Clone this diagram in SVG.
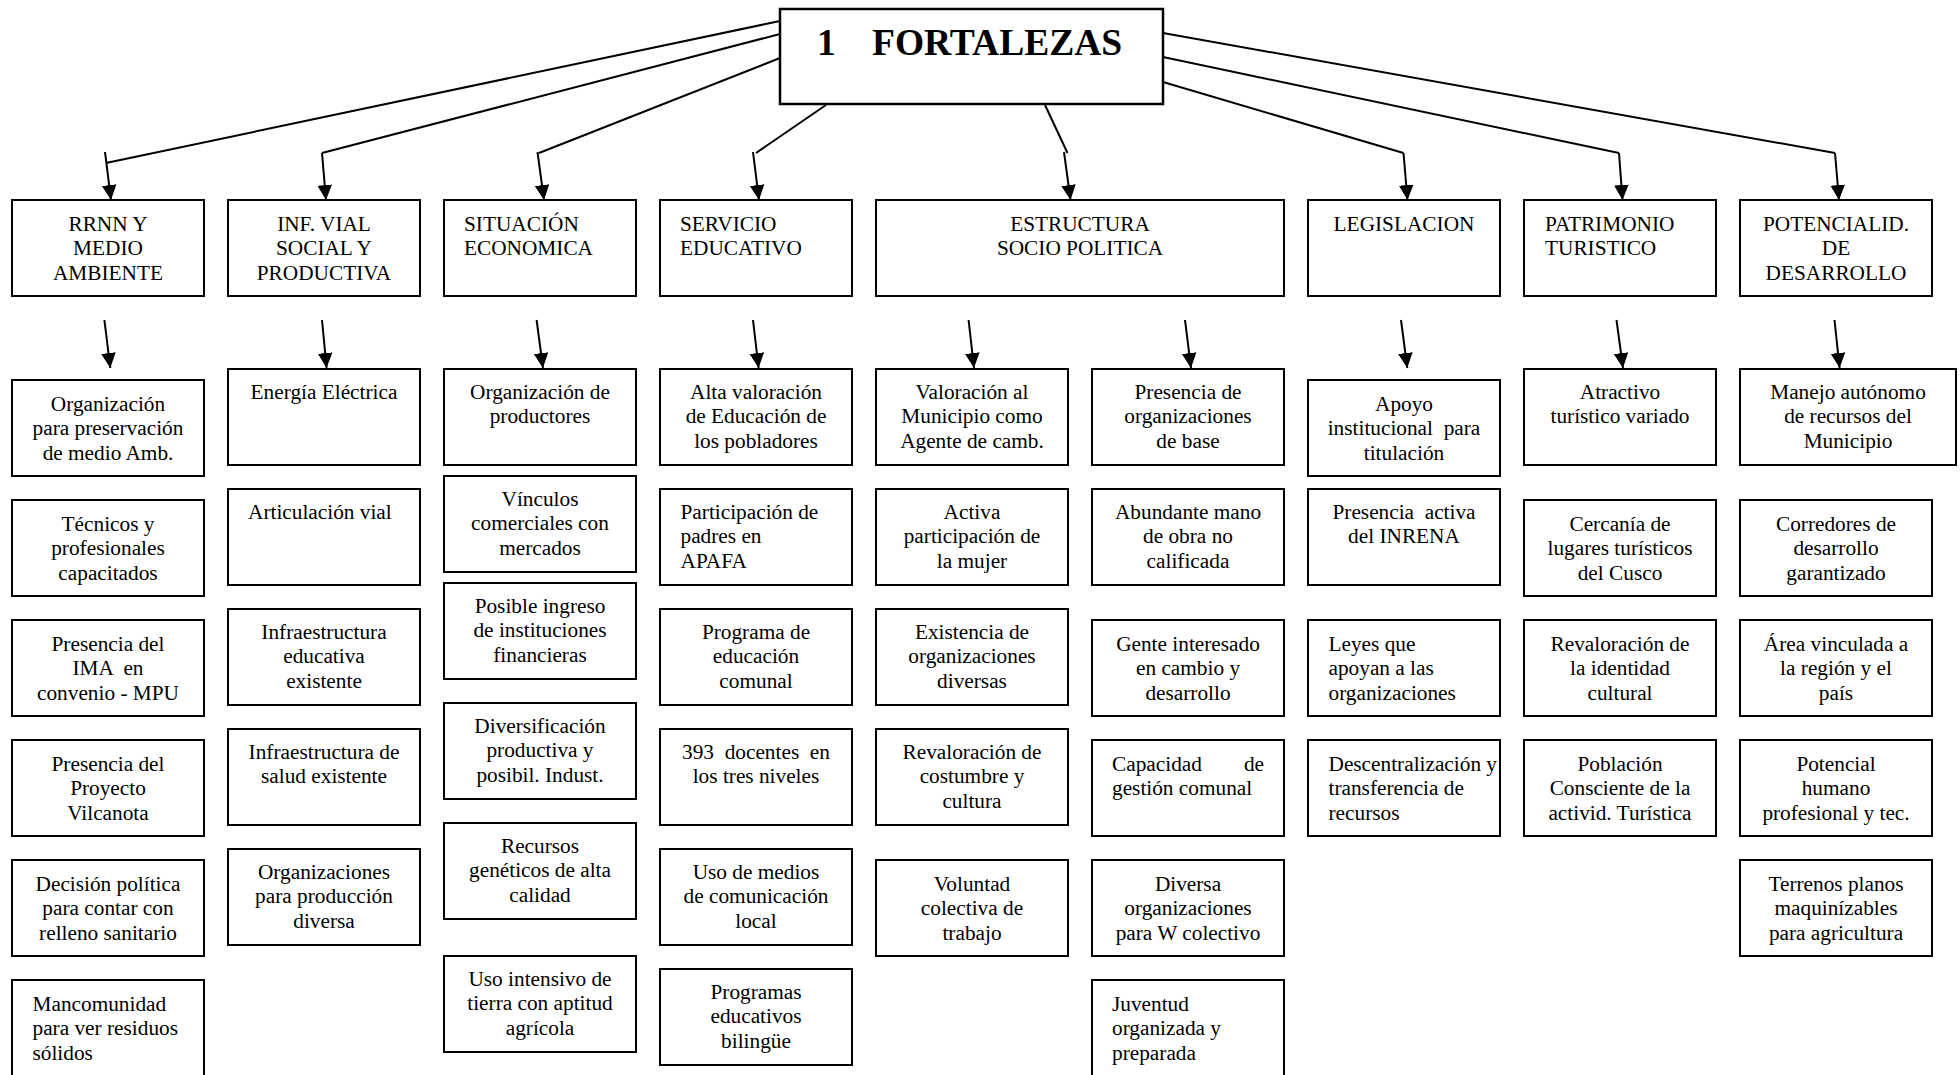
<svg xmlns="http://www.w3.org/2000/svg" width="1960" height="1075" viewBox="0 0 1960 1075">
<style>
rect{fill:#fff;stroke:#000;stroke-width:2}
text{font-family:"Liberation Serif","Times New Roman",serif;font-size:21.3px;fill:#000}
.c{text-anchor:middle}
.l{text-anchor:start}
.e{text-anchor:end}
.t{font-size:37.5px;font-weight:bold}
#connectors line{stroke:#000;stroke-width:2}
</style>
<defs>
<marker id="ah" markerUnits="userSpaceOnUse" markerWidth="16" markerHeight="16" refX="15" refY="7.3" orient="auto">
<path d="M0,0 L15,7.3 L0,14.6 z" fill="#000"/>
</marker>
</defs>
<rect width="1960" height="1075" style="fill:#fff;stroke:none"/>

<g id="connectors">
<line x1="780" y1="21" x2="106" y2="163"/>
<line x1="105" y1="152" x2="111" y2="200" marker-end="url(#ah)"/>
<line x1="780" y1="34" x2="322" y2="153"/>
<line x1="322" y1="153" x2="326" y2="200" marker-end="url(#ah)"/>
<line x1="780" y1="58" x2="539" y2="153"/>
<line x1="537.5" y1="152" x2="544" y2="200" marker-end="url(#ah)"/>
<line x1="826" y1="105" x2="756" y2="153"/>
<line x1="753" y1="152" x2="759" y2="200" marker-end="url(#ah)"/>
<line x1="1045" y1="105" x2="1067.5" y2="153"/>
<line x1="1064" y1="152" x2="1070.5" y2="200" marker-end="url(#ah)"/>
<line x1="1163" y1="82" x2="1403.5" y2="153"/>
<line x1="1403.5" y1="153" x2="1407.5" y2="200" marker-end="url(#ah)"/>
<line x1="1163" y1="57" x2="1619" y2="153"/>
<line x1="1619" y1="153" x2="1622.5" y2="200" marker-end="url(#ah)"/>
<line x1="1163" y1="33" x2="1835" y2="153"/>
<line x1="1835" y1="153" x2="1839" y2="200" marker-end="url(#ah)"/>
<line x1="104.4" y1="320" x2="110.3" y2="368" marker-end="url(#ah)"/>
<line x1="322" y1="320" x2="326.6" y2="368" marker-end="url(#ah)"/>
<line x1="536.6" y1="320" x2="543" y2="368" marker-end="url(#ah)"/>
<line x1="753" y1="320" x2="758.6" y2="368" marker-end="url(#ah)"/>
<line x1="968.6" y1="320" x2="974" y2="368" marker-end="url(#ah)"/>
<line x1="1185" y1="320" x2="1191" y2="368" marker-end="url(#ah)"/>
<line x1="1401" y1="320" x2="1407.3" y2="368" marker-end="url(#ah)"/>
<line x1="1616.5" y1="320" x2="1623" y2="368" marker-end="url(#ah)"/>
<line x1="1834.5" y1="320" x2="1839.6" y2="368" marker-end="url(#ah)"/>
</g>

<g id="root">
<rect x="780" y="9" width="383" height="95" style="stroke-width:2.5"/>
<text class="t" y="55"><tspan x="817">1</tspan><tspan x="872">FORTALEZAS</tspan></text>
</g>

<!-- Headers -->
<g id="h-rrnn"><rect x="12" y="200" width="192" height="96"/>
<text class="c" x="108" y="230.7">RRNN Y</text><text class="c" x="108" y="255.4">MEDIO</text><text class="c" x="108" y="280.1">AMBIENTE</text></g>
<g id="h-inf"><rect x="228" y="200" width="192" height="96"/>
<text class="c" x="324" y="230.7">INF. VIAL</text><text class="c" x="324" y="255.4">SOCIAL Y</text><text class="c" x="324" y="280.1">PRODUCTIVA</text></g>
<g id="h-sit"><rect x="444" y="200" width="192" height="96"/>
<text class="l" x="464" y="230.7">SITUACIÓN</text><text class="l" x="464" y="255.4">ECONOMICA</text></g>
<g id="h-serv"><rect x="660" y="200" width="192" height="96"/>
<text class="l" x="680" y="230.7">SERVICIO</text><text class="l" x="680" y="255.4">EDUCATIVO</text></g>
<g id="h-estr"><rect x="876" y="200" width="408" height="96"/>
<text class="c" x="1080" y="230.7">ESTRUCTURA</text><text class="c" x="1080" y="255.4">SOCIO POLITICA</text></g>
<g id="h-leg"><rect x="1308" y="200" width="192" height="96"/>
<text class="c" x="1404" y="230.7">LEGISLACION</text></g>
<g id="h-pat"><rect x="1524" y="200" width="192" height="96"/>
<text class="l" x="1545" y="230.7">PATRIMONIO</text><text class="l" x="1545" y="255.4">TURISTICO</text></g>
<g id="h-pot"><rect x="1740" y="200" width="192" height="96"/>
<text class="c" x="1836" y="230.7">POTENCIALID.</text><text class="c" x="1836" y="255.4">DE</text><text class="c" x="1836" y="280.1">DESARROLLO</text></g>

<!-- Column 1 -->
<g id="c1-1"><rect x="12" y="380" width="192" height="96"/>
<text class="c" x="108" y="410.5">Organización</text><text class="c" x="108" y="435.2">para preservación</text><text class="c" x="108" y="459.9">de medio Amb.</text></g>
<g id="c1-2"><rect x="12" y="500" width="192" height="96"/>
<text class="c" x="108" y="530.5">Técnicos y</text><text class="c" x="108" y="555.2">profesionales</text><text class="c" x="108" y="579.9">capacitados</text></g>
<g id="c1-3"><rect x="12" y="620" width="192" height="96"/>
<text class="c" x="108" y="650.5">Presencia del</text><text class="c" x="108" y="675.2" xml:space="preserve">IMA  en</text><text class="c" x="108" y="699.9">convenio - MPU</text></g>
<g id="c1-4"><rect x="12" y="740" width="192" height="96"/>
<text class="c" x="108" y="770.5">Presencia del</text><text class="c" x="108" y="795.2">Proyecto</text><text class="c" x="108" y="819.9">Vilcanota</text></g>
<g id="c1-5"><rect x="12" y="860" width="192" height="96"/>
<text class="c" x="108" y="890.5">Decisión política</text><text class="c" x="108" y="915.2">para contar con</text><text class="c" x="108" y="939.9">relleno sanitario</text></g>
<g id="c1-6"><rect x="12" y="980" width="192" height="98"/>
<text class="l" x="32.5" y="1010.5">Mancomunidad</text><text class="l" x="32.5" y="1035.2">para ver residuos</text><text class="l" x="32.5" y="1059.9">sólidos</text></g>

<!-- Column 2 -->
<g id="c2-1"><rect x="228" y="369" width="192" height="96"/>
<text class="c" x="324" y="398.5">Energía Eléctrica</text></g>
<g id="c2-2"><rect x="228" y="489" width="192" height="96"/>
<text class="l" x="248" y="518.5">Articulación vial</text></g>
<g id="c2-3"><rect x="228" y="609" width="192" height="96"/>
<text class="c" x="324" y="638.5">Infraestructura</text><text class="c" x="324" y="663.2">educativa</text><text class="c" x="324" y="687.9">existente</text></g>
<g id="c2-4"><rect x="228" y="729" width="192" height="96"/>
<text class="c" x="324" y="758.5">Infraestructura de</text><text class="c" x="324" y="783.2">salud existente</text></g>
<g id="c2-5"><rect x="228" y="849" width="192" height="96"/>
<text class="c" x="324" y="878.5">Organizaciones</text><text class="c" x="324" y="903.2">para producción</text><text class="c" x="324" y="927.9">diversa</text></g>

<!-- Column 3 -->
<g id="c3-1"><rect x="444" y="369" width="192" height="96"/>
<text class="c" x="540" y="398.5">Organización de</text><text class="c" x="540" y="423.2">productores</text></g>
<g id="c3-2"><rect x="444" y="476" width="192" height="96"/>
<text class="c" x="540" y="505.5">Vínculos</text><text class="c" x="540" y="530.2">comerciales con</text><text class="c" x="540" y="554.9">mercados</text></g>
<g id="c3-3"><rect x="444" y="583" width="192" height="96"/>
<text class="c" x="540" y="612.5">Posible ingreso</text><text class="c" x="540" y="637.2">de instituciones</text><text class="c" x="540" y="661.9">financieras</text></g>
<g id="c3-4"><rect x="444" y="703" width="192" height="96"/>
<text class="c" x="540" y="732.5">Diversificación</text><text class="c" x="540" y="757.2">productiva y</text><text class="c" x="540" y="781.9">posibil. Indust.</text></g>
<g id="c3-5"><rect x="444" y="823" width="192" height="96"/>
<text class="c" x="540" y="852.5">Recursos</text><text class="c" x="540" y="877.2">genéticos de alta</text><text class="c" x="540" y="901.9">calidad</text></g>
<g id="c3-6"><rect x="444" y="956" width="192" height="96"/>
<text class="c" x="540" y="985.5">Uso intensivo de</text><text class="c" x="540" y="1010.2">tierra con aptitud</text><text class="c" x="540" y="1034.9">agrícola</text></g>

<!-- Column 4 -->
<g id="c4-1"><rect x="660" y="369" width="192" height="96"/>
<text class="c" x="756" y="398.5">Alta valoración</text><text class="c" x="756" y="423.2">de Educación de</text><text class="c" x="756" y="447.9">los pobladores</text></g>
<g id="c4-2"><rect x="660" y="489" width="192" height="96"/>
<text class="l" x="680.5" y="518.5">Participación de</text><text class="l" x="680.5" y="543.2">padres en</text><text class="l" x="680.5" y="567.9">APAFA</text></g>
<g id="c4-3"><rect x="660" y="609" width="192" height="96"/>
<text class="c" x="756" y="638.5">Programa de</text><text class="c" x="756" y="663.2">educación</text><text class="c" x="756" y="687.9">comunal</text></g>
<g id="c4-4"><rect x="660" y="729" width="192" height="96"/>
<text class="c" x="756" y="758.5" xml:space="preserve">393  docentes  en</text><text class="c" x="756" y="783.2">los tres niveles</text></g>
<g id="c4-5"><rect x="660" y="849" width="192" height="96"/>
<text class="c" x="756" y="878.5">Uso de medios</text><text class="c" x="756" y="903.2">de comunicación</text><text class="c" x="756" y="927.9">local</text></g>
<g id="c4-6"><rect x="660" y="969" width="192" height="96"/>
<text class="c" x="756" y="998.5">Programas</text><text class="c" x="756" y="1023.2">educativos</text><text class="c" x="756" y="1047.9">bilingüe</text></g>

<!-- Column 5 -->
<g id="c5-1"><rect x="876" y="369" width="192" height="96"/>
<text class="c" x="972" y="398.5">Valoración al</text><text class="c" x="972" y="423.2">Municipio como</text><text class="c" x="972" y="447.9">Agente de camb.</text></g>
<g id="c5-2"><rect x="876" y="489" width="192" height="96"/>
<text class="c" x="972" y="518.5">Activa</text><text class="c" x="972" y="543.2">participación de</text><text class="c" x="972" y="567.9">la mujer</text></g>
<g id="c5-3"><rect x="876" y="609" width="192" height="96"/>
<text class="c" x="972" y="638.5">Existencia de</text><text class="c" x="972" y="663.2">organizaciones</text><text class="c" x="972" y="687.9">diversas</text></g>
<g id="c5-4"><rect x="876" y="729" width="192" height="96"/>
<text class="c" x="972" y="758.5">Revaloración de</text><text class="c" x="972" y="783.2">costumbre y</text><text class="c" x="972" y="807.9">cultura</text></g>
<g id="c5-5"><rect x="876" y="860" width="192" height="96"/>
<text class="c" x="972" y="890.5">Voluntad</text><text class="c" x="972" y="915.2">colectiva de</text><text class="c" x="972" y="939.9">trabajo</text></g>

<!-- Column 6 -->
<g id="c6-1"><rect x="1092" y="369" width="192" height="96"/>
<text class="c" x="1188" y="398.5">Presencia de</text><text class="c" x="1188" y="423.2">organizaciones</text><text class="c" x="1188" y="447.9">de base</text></g>
<g id="c6-2"><rect x="1092" y="489" width="192" height="96"/>
<text class="c" x="1188" y="518.5">Abundante mano</text><text class="c" x="1188" y="543.2">de obra no</text><text class="c" x="1188" y="567.9">calificada</text></g>
<g id="c6-3"><rect x="1092" y="620" width="192" height="96"/>
<text class="c" x="1188" y="650.5">Gente interesado</text><text class="c" x="1188" y="675.2">en cambio y</text><text class="c" x="1188" y="699.9">desarrollo</text></g>
<g id="c6-4"><rect x="1092" y="740" width="192" height="96"/>
<text y="770.5"><tspan class="l" x="1112">Capacidad</tspan><tspan class="e" x="1264" style="text-anchor:end">de</tspan></text><text class="l" x="1112" y="795.2">gestión comunal</text></g>
<g id="c6-5"><rect x="1092" y="860" width="192" height="96"/>
<text class="c" x="1188" y="890.5">Diversa</text><text class="c" x="1188" y="915.2">organizaciones</text><text class="c" x="1188" y="939.9">para W colectivo</text></g>
<g id="c6-6"><rect x="1092" y="980" width="192" height="98"/>
<text class="l" x="1112" y="1010.5">Juventud</text><text class="l" x="1112" y="1035.2">organizada y</text><text class="l" x="1112" y="1059.9">preparada</text></g>

<!-- Column 7 -->
<g id="c7-1"><rect x="1308" y="380" width="192" height="96"/>
<text class="c" x="1404" y="410.5">Apoyo</text><text class="c" x="1404" y="435.2" xml:space="preserve">institucional  para</text><text class="c" x="1404" y="459.9">titulación</text></g>
<g id="c7-2"><rect x="1308" y="489" width="192" height="96"/>
<text class="c" x="1404" y="518.5" xml:space="preserve">Presencia  activa</text><text class="c" x="1404" y="543.2">del INRENA</text></g>
<g id="c7-3"><rect x="1308" y="620" width="192" height="96"/>
<text class="l" x="1328.5" y="650.5">Leyes que</text><text class="l" x="1328.5" y="675.2">apoyan a las</text><text class="l" x="1328.5" y="699.9">organizaciones</text></g>
<g id="c7-4"><rect x="1308" y="740" width="192" height="96"/>
<text class="l" x="1328.5" y="770.5">Descentralización y</text><text class="l" x="1328.5" y="795.2">transferencia de</text><text class="l" x="1328.5" y="819.9">recursos</text></g>

<!-- Column 8 -->
<g id="c8-1"><rect x="1524" y="369" width="192" height="96"/>
<text class="c" x="1620" y="398.5">Atractivo</text><text class="c" x="1620" y="423.2">turístico variado</text></g>
<g id="c8-2"><rect x="1524" y="500" width="192" height="96"/>
<text class="c" x="1620" y="530.5">Cercanía de</text><text class="c" x="1620" y="555.2">lugares turísticos</text><text class="c" x="1620" y="579.9">del Cusco</text></g>
<g id="c8-3"><rect x="1524" y="620" width="192" height="96"/>
<text class="c" x="1620" y="650.5">Revaloración de</text><text class="c" x="1620" y="675.2">la identidad</text><text class="c" x="1620" y="699.9">cultural</text></g>
<g id="c8-4"><rect x="1524" y="740" width="192" height="96"/>
<text class="c" x="1620" y="770.5">Población</text><text class="c" x="1620" y="795.2">Consciente de la</text><text class="c" x="1620" y="819.9">activid. Turística</text></g>

<!-- Column 9 -->
<g id="c9-1"><rect x="1740" y="369" width="216" height="96"/>
<text class="c" x="1848" y="398.5">Manejo autónomo</text><text class="c" x="1848" y="423.2">de recursos del</text><text class="c" x="1848" y="447.9">Municipio</text></g>
<g id="c9-2"><rect x="1740" y="500" width="192" height="96"/>
<text class="c" x="1836" y="530.5">Corredores de</text><text class="c" x="1836" y="555.2">desarrollo</text><text class="c" x="1836" y="579.9">garantizado</text></g>
<g id="c9-3"><rect x="1740" y="620" width="192" height="96"/>
<text class="c" x="1836" y="650.5">Área vinculada a</text><text class="c" x="1836" y="675.2">la región y el</text><text class="c" x="1836" y="699.9">país</text></g>
<g id="c9-4"><rect x="1740" y="740" width="192" height="96"/>
<text class="c" x="1836" y="770.5">Potencial</text><text class="c" x="1836" y="795.2">humano</text><text class="c" x="1836" y="819.9">profesional y tec.</text></g>
<g id="c9-5"><rect x="1740" y="860" width="192" height="96"/>
<text class="c" x="1836" y="890.5">Terrenos planos</text><text class="c" x="1836" y="915.2">maquinízables</text><text class="c" x="1836" y="939.9">para agricultura</text></g>
</svg>
